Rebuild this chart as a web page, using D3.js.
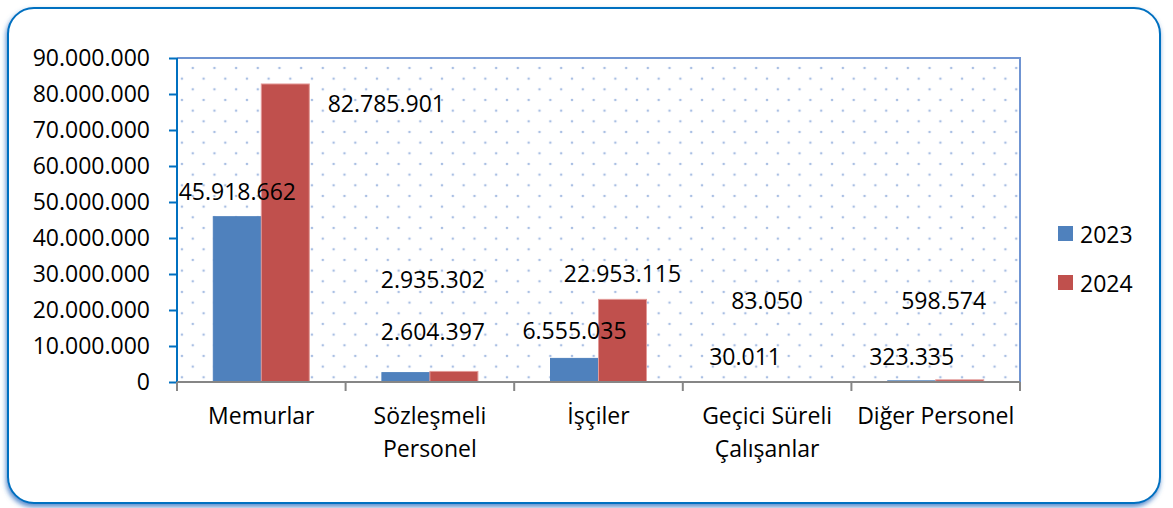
<!DOCTYPE html>
<html>
<head>
<meta charset="utf-8">
<script src="https://cdn.jsdelivr.net/npm/d3@7"></script>
<style>
  body { margin: 0; background: #fff; }
  svg text { font-family: "Open Sans", sans-serif; font-size: 23px; fill: #000; }
</style>
</head>
<body>
<div id="chart"></div>
<script>
var categories = [["Memurlar"], ["Sözleşmeli", "Personel"], ["İşçiler"], ["Geçici Süreli", "Çalışanlar"], ["Diğer Personel"]];
var seriesNames = ["2023", "2024"];
var values2023 = [45918662, 2604397, 6555035, 30011, 323335];
var values2024 = [82785901, 2935302, 22953115, 83050, 598574];
var yTicks = [0, 10000000, 20000000, 30000000, 40000000, 50000000, 60000000, 70000000, 80000000, 90000000];

// label nudges (dx, dy from bar top) - the labels were hand placed in the original
var labelShift2023 = [[0, -26], [27, -42], [0, -28], [2, -26], [0, -25]];
var labelShift2024 = [[101, 19], [-21, -92], [0, -26], [-24, -82], [-16, -80]];

var width = 1173, height = 508;
var margin = {left: 177, right: 153, top: 58, bottom: 126};
var colors = ["#4f81bd", "#c0504d"];

var tr = d3.formatLocale({decimal: ",", thousands: ".", grouping: [3], currency: ["", ""]});
var fmt = tr.format(",d");

var svg = d3.select("#chart").append("svg")
  .attr("width", width)
  .attr("height", height);

var defs = svg.append("defs");
var shadow = defs.append("filter").attr("id", "shadow")
  .attr("x", "-5%").attr("y", "-5%").attr("width", "110%").attr("height", "115%");
shadow.append("feGaussianBlur").attr("in", "SourceAlpha").attr("stdDeviation", 2.5).attr("result", "b");
shadow.append("feOffset").attr("in", "b").attr("dx", -1).attr("dy", 3).attr("result", "o");
shadow.append("feFlood").attr("flood-color", "#2f6fc0").attr("flood-opacity", 0.8);
shadow.append("feComposite").attr("in2", "o").attr("operator", "in").attr("result", "s");
var merge = shadow.append("feMerge");
merge.append("feMergeNode").attr("in", "s");
merge.append("feMergeNode").attr("in", "SourceGraphic");

var dotColor = "#a9bfe3";
var pat = defs.append("pattern").attr("id", "dots")
  .attr("patternUnits", "userSpaceOnUse")
  .attr("x", margin.left + 1.3).attr("y", margin.top + 5.3)
  .attr("width", 21.67).attr("height", 21.33);
[[0, 0], [10.83, 10.67], [21.67, 0], [0, 21.33], [21.67, 21.33]].forEach(function (p) {
  pat.append("circle").attr("cx", p[0]).attr("cy", p[1]).attr("r", 1.3).attr("fill", dotColor);
});

// outer frame
svg.append("rect")
  .attr("x", 8).attr("y", 8).attr("width", 1152).attr("height", 495)
  .attr("rx", 26).attr("ry", 26)
  .attr("fill", "#fff").attr("stroke", "#0070c0").attr("stroke-width", 2)
  .attr("filter", "url(#shadow)");

var plotW = width - margin.left - margin.right;
var plotH = height - margin.top - margin.bottom;
var g = svg.append("g").attr("transform", "translate(" + margin.left + "," + margin.top + ")");

var x0 = d3.scaleBand().domain(d3.range(categories.length)).range([0, plotW]);
var groupW = 96;
var x1 = d3.scaleBand().domain(seriesNames).range([0, groupW]);
var y = d3.scaleLinear().domain([0, 90000000]).range([plotH, 0]);

g.append("rect").attr("width", plotW).attr("height", plotH).attr("fill", "url(#dots)");
g.append("path")
  .attr("d", "M0,0H" + plotW + "V" + plotH)
  .attr("fill", "none").attr("stroke", "#6f94d2").attr("stroke-width", 2);

var flat = [];
categories.forEach(function (c, i) {
  seriesNames.forEach(function (s, j) {
    flat.push({i: i, s: s, j: j, v: j === 0 ? values2023[i] : values2024[i],
      shift: j === 0 ? labelShift2023[i] : labelShift2024[i]});
  });
});

var barX = function (d) { return x0(d.i) + (x0.bandwidth() - groupW) / 2 + x1(d.s); };

g.selectAll("rect.bar").data(flat).enter().append("rect")
  .attr("class", "bar")
  .attr("x", barX)
  .attr("y", function (d) { return y(d.v); })
  .attr("width", x1.bandwidth())
  .attr("height", function (d) { return plotH - y(d.v); })
  .attr("fill", function (d) { return colors[d.j]; })
  .attr("stroke", function (d) { return d.j === 0 ? "#4f81bd" : "#e39a98"; })
  .attr("stroke-width", 1);

// y axis
var yAxis = g.append("g").call(d3.axisLeft(y).tickValues(yTicks).tickFormat(fmt).tickSize(8).tickPadding(19));
yAxis.select(".domain").attr("stroke", "#0070c0").attr("stroke-width", 2).attr("d", "M0,0V" + plotH);
yAxis.selectAll(".tick line").attr("stroke", "#0070c0").attr("stroke-width", 2);
yAxis.selectAll(".tick text").style("font-size", "23px").attr("fill", "#000");

// x axis
var xg = g.append("g").attr("transform", "translate(0," + plotH + ")");
xg.append("line").attr("x1", 0).attr("x2", plotW).attr("stroke", "#868686").attr("stroke-width", 2);
xg.selectAll("line.tk").data(d3.range(categories.length + 1)).enter().append("line")
  .attr("class", "tk")
  .attr("x1", function (d) { return d < categories.length ? x0(d) : plotW; })
  .attr("x2", function (d) { return d < categories.length ? x0(d) : plotW; })
  .attr("y1", 0).attr("y2", 9)
  .attr("stroke", "#868686").attr("stroke-width", 2);

var xl = xg.selectAll("text.cat").data(categories).enter().append("text")
  .attr("class", "cat")
  .attr("text-anchor", "middle")
  .attr("transform", function (d, i) { return "translate(" + (x0(i) + x0.bandwidth() / 2) + ",0)"; });
xl.selectAll("tspan").data(function (d) { return d; }).enter().append("tspan")
  .attr("x", 0)
  .attr("y", function (d, k) { return 42 + k * 33; })
  .text(function (d) { return d; });

// data labels
g.selectAll("text.lbl").data(flat).enter().append("text")
  .attr("class", "lbl")
  .attr("text-anchor", "middle")
  .attr("dominant-baseline", "central")
  .attr("x", function (d) { return barX(d) + x1.bandwidth() / 2 + d.shift[0]; })
  .attr("y", function (d) { return y(d.v) + d.shift[1]; })
  .text(function (d) { return fmt(d.v); });

// legend
var lg = svg.append("g").attr("transform", "translate(1058,226)");
var li = lg.selectAll("g").data(seriesNames).enter().append("g")
  .attr("transform", function (d, i) { return "translate(0," + i * 49 + ")"; });
li.append("rect").attr("width", 15).attr("height", 15).attr("fill", function (d, i) { return colors[i]; });
li.append("text").attr("x", 22).attr("y", 7.5).attr("dominant-baseline", "central").text(function (d) { return d; });
</script>
</body>
</html>
